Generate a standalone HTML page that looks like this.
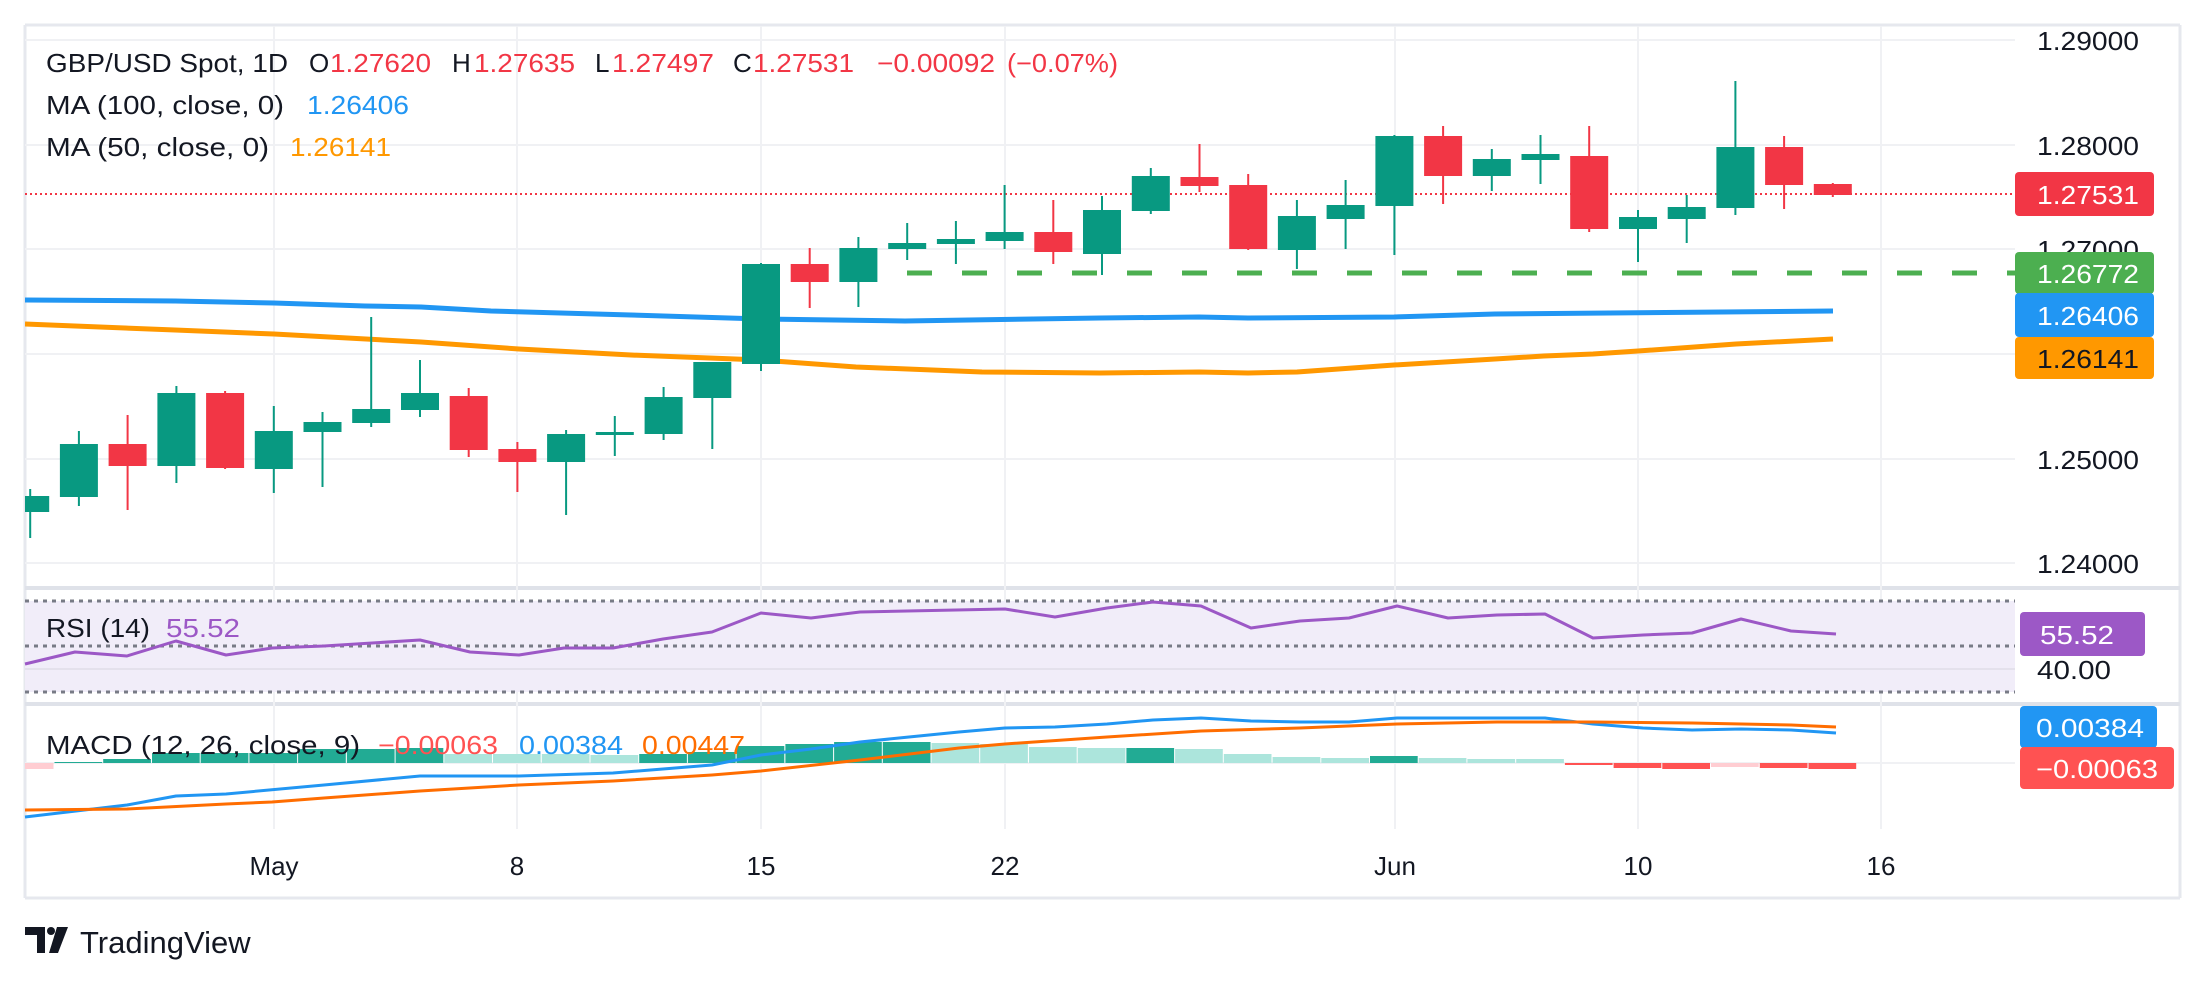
<!DOCTYPE html>
<html><head><meta charset="utf-8"><style>
html,body{margin:0;padding:0;background:#fff;}
svg{display:block;font-family:"Liberation Sans",sans-serif;}
</style></head><body>
<svg width="2205" height="987" viewBox="0 0 2205 987" xmlns="http://www.w3.org/2000/svg">
<defs>
<clipPath id="pc"><rect x="25" y="26" width="1990" height="562"/></clipPath>
<clipPath id="mc"><rect x="25" y="706" width="1990" height="123"/></clipPath>
</defs>
<rect width="2205" height="987" fill="#fff"/>
<g stroke="#E6E8EE" stroke-width="3" fill="none">
<line x1="25" y1="25" x2="2180" y2="25"/>
<line x1="2180" y1="25" x2="2180" y2="898"/>
<line x1="25" y1="898" x2="2180" y2="898"/>
<line x1="25" y1="25" x2="25" y2="898"/>
</g>
<g stroke="#DFE2E9" stroke-width="4">
<line x1="25" y1="588" x2="2180" y2="588"/>
<line x1="25" y1="704" x2="2180" y2="704"/>
</g>
<g stroke="#F0F1F4" stroke-width="2">
<line x1="25" y1="40" x2="2015" y2="40"/>
<line x1="25" y1="145" x2="2015" y2="145"/>
<line x1="25" y1="249" x2="2015" y2="249"/>
<line x1="25" y1="354" x2="2015" y2="354"/>
<line x1="25" y1="459" x2="2015" y2="459"/>
<line x1="25" y1="563" x2="2015" y2="563"/>
<line x1="274" y1="26" x2="274" y2="829"/>
<line x1="517" y1="26" x2="517" y2="829"/>
<line x1="761" y1="26" x2="761" y2="829"/>
<line x1="1005" y1="26" x2="1005" y2="829"/>
<line x1="1395" y1="26" x2="1395" y2="829"/>
<line x1="1638" y1="26" x2="1638" y2="829"/>
<line x1="1881" y1="26" x2="1881" y2="829"/>
<line x1="25" y1="763" x2="2015" y2="763"/>
</g>
<g clip-path="url(#pc)">
<polyline fill="none" stroke="#2196F3" stroke-width="5" stroke-linejoin="round" points="25,300 175,301 274,303 365,306 421,307 491,311 631,315 761,319 905,321 1100,318 1199,317 1248,318 1394,317 1495,314 1833,311"/>
<polyline fill="none" stroke="#FF9800" stroke-width="5" stroke-linejoin="round" points="25,324 175,330 274,334 421,342 519,349 631,355 761,360 856,367 982,372 1100,373 1199,372 1248,373 1297,372 1394,365 1495,359 1544,356 1593,354 1638,351 1736,344 1833,339"/>
<line x1="25" y1="194" x2="2015" y2="194" stroke="#F23645" stroke-width="2" stroke-dasharray="2,3"/>
<line x1="907" y1="273" x2="2015" y2="273" stroke="#4CAF50" stroke-width="5" stroke-dasharray="25,30"/>
<g fill="#089981">
<rect x="29.2" y="489" width="2" height="49"/><rect x="11.2" y="496" width="38" height="16"/>
<rect x="77.9" y="431" width="2" height="75"/><rect x="59.9" y="444" width="38" height="53"/>
<rect x="175.4" y="386" width="2" height="97"/><rect x="157.4" y="393" width="38" height="73"/>
<rect x="272.8" y="406" width="2" height="87"/><rect x="254.8" y="431" width="38" height="38"/>
<rect x="321.5" y="412" width="2" height="75"/><rect x="303.5" y="422" width="38" height="10"/>
<rect x="370.2" y="317" width="2" height="110"/><rect x="352.2" y="409" width="38" height="14"/>
<rect x="419" y="360" width="2" height="57"/><rect x="401" y="393" width="38" height="17"/>
<rect x="565.1" y="430" width="2" height="85"/><rect x="547.1" y="434" width="38" height="28"/>
<rect x="613.8" y="416" width="2" height="40"/><rect x="595.8" y="432" width="38" height="3"/>
<rect x="662.6" y="387" width="2" height="53"/><rect x="644.6" y="397" width="38" height="37"/>
<rect x="711.3" y="362" width="2" height="87"/><rect x="693.3" y="362" width="38" height="36"/>
<rect x="760" y="263" width="2" height="108"/><rect x="742" y="264" width="38" height="100"/>
<rect x="857.4" y="237" width="2" height="70"/><rect x="839.4" y="248" width="38" height="34"/>
<rect x="906.2" y="223" width="2" height="37"/><rect x="888.2" y="243" width="38" height="6"/>
<rect x="954.9" y="221" width="2" height="43"/><rect x="936.9" y="239" width="38" height="5"/>
<rect x="1003.6" y="185" width="2" height="64"/><rect x="985.6" y="232" width="38" height="9"/>
<rect x="1101" y="196" width="2" height="79"/><rect x="1083" y="210" width="38" height="44"/>
<rect x="1149.8" y="168" width="2" height="46"/><rect x="1131.8" y="176" width="38" height="35"/>
<rect x="1295.9" y="200" width="2" height="69"/><rect x="1277.9" y="216" width="38" height="34"/>
<rect x="1344.6" y="180" width="2" height="69"/><rect x="1326.6" y="205" width="38" height="14"/>
<rect x="1393.4" y="135" width="2" height="120"/><rect x="1375.4" y="136" width="38" height="70"/>
<rect x="1490.8" y="149" width="2" height="42"/><rect x="1472.8" y="159" width="38" height="17"/>
<rect x="1539.5" y="135" width="2" height="49"/><rect x="1521.5" y="154" width="38" height="6"/>
<rect x="1637" y="210" width="2" height="52"/><rect x="1619" y="217" width="38" height="12"/>
<rect x="1685.7" y="195" width="2" height="48"/><rect x="1667.7" y="207" width="38" height="12"/>
<rect x="1734.4" y="81" width="2" height="134"/><rect x="1716.4" y="147" width="38" height="61"/>
</g>
<g fill="#F23645">
<rect x="126.6" y="415" width="2" height="95"/><rect x="108.6" y="444" width="38" height="22"/>
<rect x="224.1" y="391" width="2" height="78"/><rect x="206.1" y="393" width="38" height="75"/>
<rect x="467.7" y="388" width="2" height="69"/><rect x="449.7" y="396" width="38" height="54"/>
<rect x="516.4" y="442" width="2" height="50"/><rect x="498.4" y="449" width="38" height="13"/>
<rect x="808.7" y="248" width="2" height="60"/><rect x="790.7" y="264" width="38" height="18"/>
<rect x="1052.3" y="200" width="2" height="64"/><rect x="1034.3" y="232" width="38" height="20"/>
<rect x="1198.5" y="144" width="2" height="48"/><rect x="1180.5" y="177" width="38" height="9"/>
<rect x="1247.2" y="174" width="2" height="76"/><rect x="1229.2" y="185" width="38" height="64"/>
<rect x="1442.1" y="126" width="2" height="78"/><rect x="1424.1" y="136" width="38" height="40"/>
<rect x="1588.2" y="126" width="2" height="106"/><rect x="1570.2" y="156" width="38" height="73"/>
<rect x="1783.1" y="136" width="2" height="73"/><rect x="1765.1" y="147" width="38" height="38"/>
<rect x="1831.8" y="183" width="2" height="14"/><rect x="1813.8" y="184" width="38" height="11"/>
</g>
</g>
<rect x="25" y="601" width="1990" height="91" fill="#F1EDF9"/>
<line x1="25" y1="669" x2="2015" y2="669" stroke="#E4E1EC" stroke-width="2"/>
<g stroke="#787B86" stroke-width="3" stroke-dasharray="4,5">
<line x1="25" y1="601" x2="2015" y2="601"/>
<line x1="25" y1="646" x2="2015" y2="646"/>
<line x1="25" y1="692" x2="2015" y2="692"/>
</g>
<polyline fill="none" stroke="#9C58C6" stroke-width="3" stroke-linejoin="round" points="25,664 75,652 127,656 176,641 226,655 272,648 324,646 420,640 470,652 519,655 564,648 613,648 663,639 712,632 761,613 811,618 860,612 1005,609 1055,617 1107,608 1153,602 1201,606 1251,628 1300,621 1349,618 1397,606 1448,618 1497,615 1545,614 1593,638 1643,635 1692,633 1741,619 1791,631 1836,634"/>
<g clip-path="url(#mc)">
<rect x="5.8" y="763" width="47.7" height="6" fill="#FFCDD2"/>
<g fill="#22AB94">
<rect x="54.5" y="762" width="47.7" height="1"/>
<rect x="103.2" y="759" width="47.7" height="4"/>
<rect x="152" y="753" width="47.7" height="10"/>
<rect x="200.7" y="753" width="47.7" height="10"/>
<rect x="249.4" y="753" width="47.7" height="10"/>
<rect x="298.1" y="749" width="47.7" height="14"/>
<rect x="346.9" y="749" width="47.7" height="14"/>
<rect x="395.6" y="748" width="47.7" height="15"/>
<rect x="639.2" y="754" width="47.7" height="9"/>
<rect x="687.9" y="752" width="47.7" height="11"/>
<rect x="736.6" y="746" width="47.7" height="17"/>
<rect x="785.4" y="744" width="47.7" height="19"/>
<rect x="834.1" y="742" width="47.7" height="21"/>
<rect x="882.8" y="742" width="47.7" height="21"/>
<rect x="1126.4" y="748" width="47.7" height="15"/>
<rect x="1370" y="756" width="47.7" height="7"/>
</g>
<g fill="#ACE5DC">
<rect x="444.3" y="754" width="47.7" height="9"/>
<rect x="493" y="754" width="47.7" height="9"/>
<rect x="541.8" y="754" width="47.7" height="9"/>
<rect x="590.5" y="755" width="47.7" height="8"/>
<rect x="931.5" y="743" width="47.7" height="20"/>
<rect x="980.2" y="744" width="47.7" height="19"/>
<rect x="1029" y="747" width="47.7" height="16"/>
<rect x="1077.7" y="748" width="47.7" height="15"/>
<rect x="1175.1" y="749" width="47.7" height="14"/>
<rect x="1223.8" y="754" width="47.7" height="9"/>
<rect x="1272.6" y="757" width="47.7" height="6"/>
<rect x="1321.3" y="758" width="47.7" height="5"/>
<rect x="1418.7" y="758" width="47.7" height="5"/>
<rect x="1467.4" y="759" width="47.7" height="4"/>
<rect x="1516.2" y="759" width="47.7" height="4"/>
</g>
<g fill="#FF5252">
<rect x="1564.9" y="763" width="47.7" height="2"/>
<rect x="1613.6" y="763" width="47.7" height="5"/>
<rect x="1662.3" y="763" width="47.7" height="6"/>
<rect x="1759.8" y="763" width="47.7" height="5"/>
<rect x="1808.5" y="763" width="47.7" height="6"/>
</g>
<rect x="1711" y="763" width="47.7" height="4" fill="#FFCDD2"/>
</g>
<polyline fill="none" stroke="#2196F3" stroke-width="3" stroke-linejoin="round" points="25,817 127,805 176,796 226,794 324,785 420,776 519,776 613,773 663,769 712,765 761,755 811,749 860,742 909,737 959,732 1005,728 1055,727 1107,724 1153,720 1201,718 1251,721 1300,722 1349,722 1397,718 1497,718 1545,718 1593,724 1643,728 1692,730 1741,729 1791,730 1836,733"/>
<polyline fill="none" stroke="#FF6D00" stroke-width="3" stroke-linejoin="round" points="25,810 127,809 226,804 272,802 324,798 420,791 519,785 613,781 712,775 761,771 860,760 959,748 1005,744 1107,737 1201,731 1300,728 1397,724 1497,722 1545,722 1593,722 1692,723 1791,725 1836,727"/>
<g font-size="26">
<text x="46" y="72" fill="#131722" textLength="242" lengthAdjust="spacingAndGlyphs">GBP/USD Spot, 1D</text>
<text x="309" y="72" fill="#131722">O</text>
<text x="330" y="72" fill="#F23645" textLength="101" lengthAdjust="spacingAndGlyphs">1.27620</text>
<text x="452" y="72" fill="#131722">H</text>
<text x="474" y="72" fill="#F23645" textLength="101" lengthAdjust="spacingAndGlyphs">1.27635</text>
<text x="595" y="72" fill="#131722">L</text>
<text x="612" y="72" fill="#F23645" textLength="102" lengthAdjust="spacingAndGlyphs">1.27497</text>
<text x="733" y="72" fill="#131722">C</text>
<text x="753" y="72" fill="#F23645" textLength="101" lengthAdjust="spacingAndGlyphs">1.27531</text>
<text x="877" y="72" fill="#F23645" textLength="118" lengthAdjust="spacingAndGlyphs">−0.00092</text>
<text x="1007" y="72" fill="#F23645" textLength="111" lengthAdjust="spacingAndGlyphs">(−0.07%)</text>
<text x="46" y="114" fill="#131722" textLength="238" lengthAdjust="spacingAndGlyphs">MA (100, close, 0)</text>
<text x="307" y="114" fill="#2196F3" textLength="102" lengthAdjust="spacingAndGlyphs">1.26406</text>
<text x="46" y="156" fill="#131722" textLength="223" lengthAdjust="spacingAndGlyphs">MA (50, close, 0)</text>
<text x="290" y="156" fill="#FF9800" textLength="101" lengthAdjust="spacingAndGlyphs">1.26141</text>
<text x="46" y="637" fill="#131722" textLength="104" lengthAdjust="spacingAndGlyphs">RSI (14)</text>
<text x="166" y="637" fill="#9C58C6" textLength="74" lengthAdjust="spacingAndGlyphs">55.52</text>
<text x="46" y="754" fill="#131722" textLength="314" lengthAdjust="spacingAndGlyphs">MACD (12, 26, close, 9)</text>
<text x="378" y="754" fill="#FF5252" textLength="120" lengthAdjust="spacingAndGlyphs">−0.00063</text>
<text x="519" y="754" fill="#2196F3" textLength="104" lengthAdjust="spacingAndGlyphs">0.00384</text>
<text x="642" y="754" fill="#FF6D00" textLength="103" lengthAdjust="spacingAndGlyphs">0.00447</text>
</g>
<g font-size="26" fill="#131722">
<text x="2037" y="50" textLength="102" lengthAdjust="spacingAndGlyphs">1.29000</text>
<text x="2037" y="155" textLength="102" lengthAdjust="spacingAndGlyphs">1.28000</text>
<text x="2037" y="259" textLength="102" lengthAdjust="spacingAndGlyphs">1.27000</text>
<text x="2037" y="469" textLength="102" lengthAdjust="spacingAndGlyphs">1.25000</text>
<text x="2037" y="573" textLength="102" lengthAdjust="spacingAndGlyphs">1.24000</text>
<text x="2037" y="679" textLength="74" lengthAdjust="spacingAndGlyphs">40.00</text>
</g>
<rect x="2015" y="172" width="139" height="44" rx="4" fill="#F23645"/>
<rect x="2015" y="252" width="139" height="42" rx="4" fill="#4CAF50"/>
<rect x="2015" y="293" width="139" height="44" rx="4" fill="#2196F3"/>
<rect x="2015" y="337" width="139" height="42" rx="4" fill="#FF9800"/>
<rect x="2020" y="612" width="125" height="44" rx="4" fill="#9C58C6"/>
<rect x="2020" y="706" width="137" height="42" rx="4" fill="#2196F3"/>
<rect x="2020" y="747" width="154" height="42" rx="4" fill="#FF5252"/>
<g font-size="26">
<text x="2037" y="204" fill="#fff" textLength="102" lengthAdjust="spacingAndGlyphs">1.27531</text>
<text x="2037" y="283" fill="#fff" textLength="102" lengthAdjust="spacingAndGlyphs">1.26772</text>
<text x="2037" y="325" fill="#fff" textLength="102" lengthAdjust="spacingAndGlyphs">1.26406</text>
<text x="2037" y="368" fill="#131722" textLength="102" lengthAdjust="spacingAndGlyphs">1.26141</text>
<text x="2040" y="644" fill="#fff" textLength="74" lengthAdjust="spacingAndGlyphs">55.52</text>
<text x="2036" y="737" fill="#fff" textLength="108" lengthAdjust="spacingAndGlyphs">0.00384</text>
<text x="2036" y="778" fill="#fff" textLength="122" lengthAdjust="spacingAndGlyphs">−0.00063</text>
</g>
<g font-size="26" fill="#131722" text-anchor="middle">
<text x="274" y="875">May</text>
<text x="517" y="875">8</text>
<text x="761" y="875">15</text>
<text x="1005" y="875">22</text>
<text x="1395" y="875">Jun</text>
<text x="1638" y="875">10</text>
<text x="1881" y="875">16</text>
</g>
<g fill="#131722">
<path d="M25 927h20v26h-8v-18h-12z"/>
<circle cx="51" cy="931" r="4"/>
<path d="M57 927h11l-10 26h-9z"/>
</g>
<text x="80" y="953" font-size="31" fill="#131722">TradingView</text>
</svg>
</body></html>
